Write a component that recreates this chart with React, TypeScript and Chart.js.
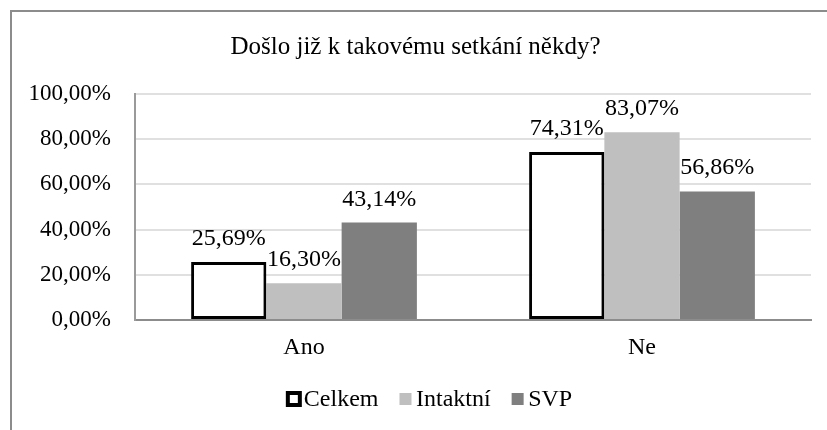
import React, { useEffect, useRef } from "react";
import { Chart, registerables } from "chart.js";

Chart.register(...registerables);

const TITLE = "Došlo již k takovému setkání někdy?";
const CATEGORIES = ["Ano", "Ne"];
const SERIES_NAMES = ["Celkem", "Intaktní", "SVP"];
const CELKEM = [25.69, 74.31];
const INTAKTNI = [16.3, 83.07];
const SVP = [43.14, 56.86];
const Y_TICKS = [0, 20, 40, 60, 80, 100];

const FONT = '"Liberation Serif", "Times New Roman", serif';
const fmt = (v: number) => v.toFixed(2).replace(".", ",") + "%";

const frame = {
  id: "frame",
  beforeDraw(chart: any) {
    const ctx = chart.ctx;
    ctx.save();
    ctx.fillStyle = "#ffffff";
    ctx.fillRect(0, 0, chart.width, chart.height);
    ctx.strokeStyle = "#8c8c8c";
    ctx.lineWidth = 2;
    ctx.beginPath();
    ctx.moveTo(11, chart.height);
    ctx.lineTo(11, 11);
    ctx.lineTo(chart.width, 11);
    ctx.stroke();
    ctx.restore();
  },
};

const valueLabels = {
  id: "valueLabels",
  afterDatasetsDraw(chart: any) {
    const ctx = chart.ctx;
    ctx.save();
    ctx.font = `24px ${FONT}`;
    ctx.fillStyle = "#000";
    ctx.textAlign = "center";
    ctx.textBaseline = "alphabetic";
    chart.data.datasets.forEach((ds: any, i: number) => {
      const meta = chart.getDatasetMeta(i);
      meta.data.forEach((el: any, j: number) => {
        ctx.fillText(fmt(ds.data[j]), el.x, el.y - 17);
      });
    });
    ctx.restore();
  },
};

const customLegend = {
  id: "customLegend",
  afterDraw(chart: any) {
    const ctx = chart.ctx;
    ctx.save();
    ctx.font = `24px ${FONT}`;
    ctx.textBaseline = "middle";
    ctx.textAlign = "left";
    const gapItem = 21;
    const items = chart.data.datasets.map((ds: any) => {
      const outlined = ds.borderWidth > 0;
      return {
        label: ds.label,
        fill: ds.backgroundColor,
        stroke: outlined ? ds.borderColor : null,
        box: outlined ? 16 : 12,
        gap: outlined ? 2 : 4.5,
        w: ctx.measureText(ds.label).width,
      };
    });
    let total = 0;
    items.forEach((it: any, k: number) => {
      total += it.box + it.gap + it.w + (k < items.length - 1 ? gapItem : 0);
    });
    let x = 429 - total / 2;
    const y = 399;
    items.forEach((it: any) => {
      if (it.stroke) {
        ctx.fillStyle = it.fill;
        ctx.fillRect(x, y - it.box / 2, it.box, it.box);
        ctx.strokeStyle = it.stroke;
        ctx.lineWidth = 4;
        ctx.strokeRect(x + 2, y - it.box / 2 + 2, it.box - 4, it.box - 4);
      } else {
        ctx.fillStyle = it.fill;
        ctx.fillRect(x, y - it.box / 2, it.box, it.box);
      }
      x += it.box + it.gap;
      ctx.fillStyle = "#000";
      ctx.fillText(it.label, x, y + 1);
      x += it.w + gapItem;
    });
    ctx.restore();
  },
};

export default function App() {
  const ref = useRef<HTMLCanvasElement | null>(null);
  useEffect(() => {
    if (!ref.current) return;
    const chart = new Chart(ref.current, {
      type: "bar",
      data: {
        labels: CATEGORIES,
        datasets: [
          {
            label: SERIES_NAMES[0],
            data: CELKEM,
            backgroundColor: "#ffffff",
            borderColor: "#000000",
            borderWidth: 3,
            borderSkipped: false,
          },
          {
            label: SERIES_NAMES[1],
            data: INTAKTNI,
            backgroundColor: "#bfbfbf",
            borderWidth: 0,
          },
          {
            label: SERIES_NAMES[2],
            data: SVP,
            backgroundColor: "#7f7f7f",
            borderWidth: 0,
          },
        ],
      },
      options: {
        animation: false,
        responsive: false,
        maintainAspectRatio: false,
        layout: { padding: { left: 20, right: 16, top: 10, bottom: 70 } },
        datasets: { bar: { categoryPercentage: 0.668, barPercentage: 1 } },
        plugins: {
          legend: { display: false },
          tooltip: { enabled: false },
          title: {
            display: true,
            text: TITLE,
            color: "#000",
            font: { family: FONT, size: 25, weight: "normal" },
            padding: { top: 22, bottom: 32 },
          },
        },
        scales: {
          x: {
            grid: { drawOnChartArea: false, drawTicks: false },
            border: { display: true, color: "#8c8c8c", width: 2 },
            ticks: {
              color: "#000",
              font: { family: FONT, size: 24 },
              padding: 13,
            },
            afterFit: (s: any) => {
              s.height = 40;
            },
          },
          y: {
            min: 0,
            max: 100,
            afterBuildTicks: (s: any) => {
              s.ticks = Y_TICKS.map((v) => ({ value: v }));
            },
            grid: { color: "#e0e0e0", lineWidth: 2, drawTicks: false },
            border: { display: true, color: "#9a9a9a", width: 2 },
            ticks: {
              color: "#000",
              font: { family: FONT, size: 23 },
              padding: 24,
              callback: (v: any) => fmt(Number(v)),
            },
            afterFit: (s: any) => {
              s.width = 115;
            },
          },
        },
      },
      plugins: [frame, valueLabels, customLegend],
    });
    return () => chart.destroy();
  }, []);
  return (
    <div style={{ position: "absolute", left: 0, top: 0, width: 827, height: 430 }}>
      <canvas ref={ref} width={827} height={430} style={{ display: "block" }} />
    </div>
  );
}
